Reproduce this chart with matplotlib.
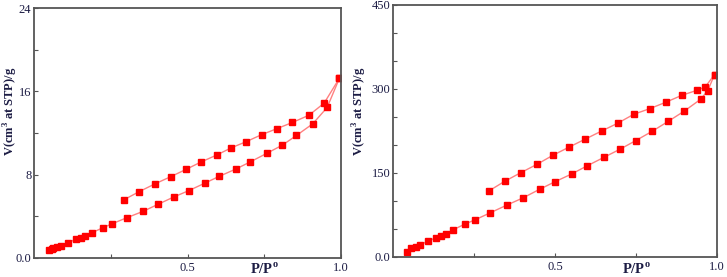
import numpy as np
import matplotlib
matplotlib.use("Agg")
import matplotlib.pyplot as plt

plt.rcParams["font.family"] = ["Liberation Serif", "DejaVu Serif"]
plt.rcParams["mathtext.fontset"] = "custom"
plt.rcParams["mathtext.rm"] = "Liberation Serif"
plt.rcParams["mathtext.bf"] = "Liberation Serif:bold"

# left panel: adsorption / desorption branches
left_ads_x = [0.049, 0.057, 0.062, 0.073, 0.089, 0.111, 0.136, 0.152, 0.165, 0.187,
              0.225, 0.255, 0.303, 0.355, 0.404, 0.455, 0.504, 0.557, 0.603, 0.657,
              0.703, 0.758, 0.809, 0.855, 0.908, 0.955, 0.995]
left_ads_y = [0.74, 0.86, 0.96, 1.09, 1.18, 1.47, 1.79, 1.89, 2.08, 2.40,
              2.91, 3.29, 3.87, 4.47, 5.15, 5.85, 6.46, 7.19, 7.83, 8.53,
              9.20, 10.04, 10.83, 11.76, 12.88, 14.45, 17.26]
left_des_x = [0.995, 0.945, 0.896, 0.842, 0.790, 0.741, 0.690, 0.643, 0.595, 0.543,
              0.495, 0.445, 0.393, 0.342, 0.293]
left_des_y = [17.26, 14.86, 13.71, 13.01, 12.40, 11.83, 11.15, 10.58, 9.88, 9.20,
              8.50, 7.80, 7.10, 6.36, 5.59]

# right panel
right_ads_x = [0.041, 0.056, 0.070, 0.084, 0.107, 0.132, 0.148, 0.162, 0.183, 0.221,
               0.251, 0.300, 0.351, 0.400, 0.452, 0.500, 0.551, 0.600, 0.651, 0.700,
               0.749, 0.800, 0.850, 0.900, 0.950, 0.972, 0.993]
right_ads_y = [8.3, 14.9, 17.9, 21.5, 28.0, 34.0, 37.6, 41.1, 47.7, 58.4,
               65.6, 78.7, 92.4, 105.0, 120.5, 134.2, 147.9, 162.8, 177.7, 192.0,
               207.5, 224.2, 242.1, 260.6, 281.5, 297.0, 325.6]
right_des_x = [0.993, 0.964, 0.939, 0.892, 0.842, 0.793, 0.743, 0.693, 0.644, 0.594,
               0.544, 0.493, 0.444, 0.394, 0.344, 0.295]
right_des_y = [325.6, 303.5, 297.6, 288.6, 276.1, 264.8, 254.6, 238.5, 224.8, 210.5,
               196.2, 181.3, 165.2, 150.3, 134.8, 117.5]

x_ticks = [0.25, 0.5, 0.75, 1.0]
x_tick_labels = ["", "0.5", "", "1.0"]
left_y_ticks = [0, 4, 8, 12, 16, 20, 24]
left_y_labels = ["0.0", "", "8", "", "16", "", "24"]
right_y_ticks = [0, 50, 100, 150, 200, 250, 300, 350, 400, 450]
right_y_labels = ["0.0", "", "", "150", "", "", "300", "", "", "450"]

text_color = "#1c1c44"
line_color = "#ff8080"
marker_color = "#ff0000"

fig = plt.figure(figsize=(7.27, 2.77), dpi=100)
ax1 = fig.add_axes([0.047, 0.069, 0.422, 0.902])
ax2 = fig.add_axes([0.541, 0.073, 0.445, 0.909])


def style(ax, yticks, ylabels, ymax):
    ax.set_xlim(0, 1.0)
    ax.set_ylim(0, ymax)
    ax.set_xticks(x_ticks)
    ax.set_xticklabels(x_tick_labels)
    ax.set_yticks(yticks)
    ax.set_yticklabels(ylabels)
    ax.tick_params(direction="in", length=3, width=0.8, colors="#555555",
                   labelcolor=text_color, labelsize=9, pad=3)
    ax.tick_params(axis="y", pad=2)
    for sp in ax.spines.values():
        sp.set_color("#555555")
        sp.set_linewidth(1.3)
    # x label sits where the 0.75 tick label would be
    x_fig = ax.get_position().x0 + 0.75 * ax.get_position().width
    fig.text(x_fig, 0.012, r"P/P$^{\mathbf{o}}$", ha="center", va="baseline",
             fontsize=10.5, fontweight="bold", color=text_color)


for ax, ax_x, ax_y, de_x, de_y in [
    (ax1, left_ads_x, left_ads_y, left_des_x, left_des_y),
    (ax2, right_ads_x, right_ads_y, right_des_x, right_des_y),
]:
    ax.plot(ax_x, ax_y, "-", color=line_color, lw=1.0, marker="s", ms=3.8,
            mfc=marker_color, mec=marker_color)
    ax.plot(de_x, de_y, "-", color=line_color, lw=1.0, marker="s", ms=3.8,
            mfc=marker_color, mec=marker_color)

style(ax1, left_y_ticks, left_y_labels, 24)
style(ax2, right_y_ticks, right_y_labels, 450)

fig.text(0.002, 0.6, r"V(cm$^{\mathbf{3}}$ at STP)/g", rotation=90, ha="left",
         va="center", fontsize=9, fontweight="bold", color=text_color)
fig.text(0.483, 0.6, r"V(cm$^{\mathbf{3}}$ at STP)/g", rotation=90, ha="left",
         va="center", fontsize=9, fontweight="bold", color=text_color)

fig.savefig("out.png", dpi=100)
